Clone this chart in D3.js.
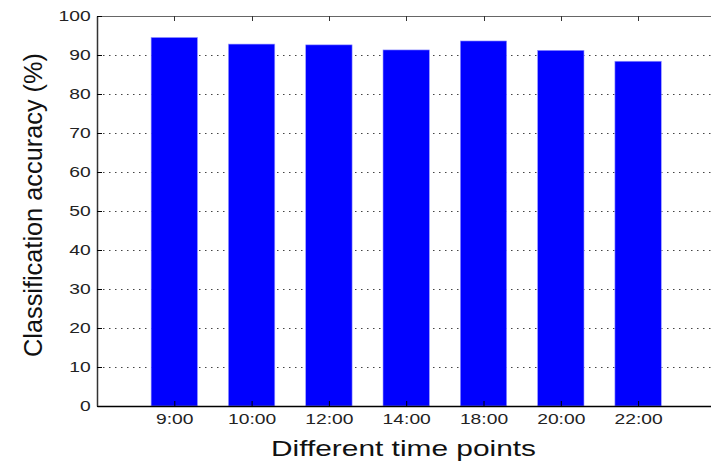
<!doctype html>
<html>
<head>
<meta charset="UTF-8">
<title>Classification accuracy</title>
<script src="https://cdnjs.cloudflare.com/ajax/libs/d3/7.8.5/d3.min.js"></script>
<style>
	html, body { margin: 0; padding: 0; background: #fff; }
	svg { display: block; font-family: "Liberation Sans", Arial, Helvetica, sans-serif; }
</style>
</head>
<body>
<svg id="chart"></svg>
<script>
(function(){
	'use strict'

	// data
	const timePoints = ['9:00', '10:00', '12:00', '14:00', '18:00', '20:00', '22:00'];
	const accuracy = [94.5, 92.8, 92.6, 91.3, 93.6, 91.2, 88.4];
	const yTicks = [0, 10, 20, 30, 40, 50, 60, 70, 80, 90, 100];

	const width = 711, height = 461;
	const left = 97, top = 16, bottom = 406;
	const stretch = 1.33; // the original figure is stretched sideways

	const svg = d3.select('#chart').attr('width', width).attr('height', height);

	// matlab style: bars at 1..n, axis limits 0..n+1 (right edge falls off the picture)
	const x = d3.scaleLinear().domain([0, timePoints.length + 1]).range([left, left + 77.3 * (timePoints.length + 1)]);
	const y = d3.scaleLinear().domain([0, 100]).range([bottom, top]);
	const barWidth = 0.6;

	// dotted grid
	svg.append('g')
		.selectAll('line')
		.data(yTicks.filter(function(d){ return d > 0 && d < 100; }))
		.join('line')
		.attr('x1', left).attr('x2', x.range()[1])
		.attr('y1', function(d){ return Math.round(y(d)) + 0.5; })
		.attr('y2', function(d){ return Math.round(y(d)) + 0.5; })
		.attr('stroke', '#444')
		.attr('stroke-width', 1)
		.attr('stroke-dasharray', '1.5,4.5');

	// bars
	svg.append('g')
		.selectAll('rect')
		.data(accuracy)
		.join('rect')
		.attr('x', function(d, i){ return x(i + 1 - barWidth / 2); })
		.attr('width', x(barWidth) - x(0))
		.attr('y', function(d){ return y(d); })
		.attr('height', function(d){ return y(0) - y(d); })
		.attr('fill', '#0000ff')
		.attr('stroke', '#9a9aff')
		.attr('stroke-width', 0.6);

	// box: top line (grey) with inward ticks
	svg.append('line')
		.attr('x1', left).attr('x2', x.range()[1])
		.attr('y1', top + 0.5).attr('y2', top + 0.5)
		.attr('stroke', '#666').attr('stroke-width', 1.2);
	svg.append('g')
		.selectAll('line')
		.data(timePoints)
		.join('line')
		.attr('x1', function(d, i){ return Math.round(x(i + 1)) + 0.5; })
		.attr('x2', function(d, i){ return Math.round(x(i + 1)) + 0.5; })
		.attr('y1', top).attr('y2', top + 5)
		.attr('stroke', '#333');

	// x axis
	const xAxis = d3.axisBottom(x)
		.tickValues(d3.range(1, timePoints.length + 1))
		.tickFormat(function(d){ return timePoints[d - 1]; })
		.tickSizeInner(-5).tickSizeOuter(0).tickPadding(0);
	const gx = svg.append('g')
		.attr('transform', 'translate(0,' + bottom + ')')
		.call(xAxis);
	gx.select('.domain').attr('stroke', '#000').attr('stroke-width', 1.5);
	gx.selectAll('.tick line').attr('stroke', '#000');
	gx.selectAll('text')
		.attr('dy', null).attr('y', 18)
		.attr('transform', 'scale(' + stretch + ',1)')
		.attr('font-size', 14.5).attr('fill', '#222').attr('font-family', null);

	// y axis
	const yAxis = d3.axisLeft(y)
		.tickValues(yTicks)
		.tickSizeInner(-5).tickSizeOuter(0).tickPadding(0);
	const gy = svg.append('g')
		.attr('transform', 'translate(' + left + ',0)')
		.call(yAxis);
	gy.select('.domain').attr('stroke', '#333').attr('stroke-width', 1.5);
	gy.selectAll('.tick line').attr('stroke', '#000');
	gy.selectAll('text')
		.attr('x', -6.3 / stretch)
		.attr('transform', 'scale(' + stretch + ',1)')
		.attr('font-size', 14.5).attr('fill', '#222').attr('font-family', null);

	// axis titles
	svg.append('text')
		.attr('x', 403.5).attr('y', 455.5)
		.attr('text-anchor', 'middle')
		.attr('font-size', 22)
		.attr('textLength', 265)
		.attr('lengthAdjust', 'spacingAndGlyphs')
		.attr('fill', '#111')
		.text('Different time points');

	svg.append('text')
		.attr('transform', 'translate(42,205) rotate(-90)')
		.attr('text-anchor', 'middle')
		.attr('font-size', 26)
		.attr('textLength', 304)
		.attr('lengthAdjust', 'spacingAndGlyphs')
		.attr('fill', '#111')
		.text('Classification accuracy (%)');
})();
</script>
</body>
</html>
